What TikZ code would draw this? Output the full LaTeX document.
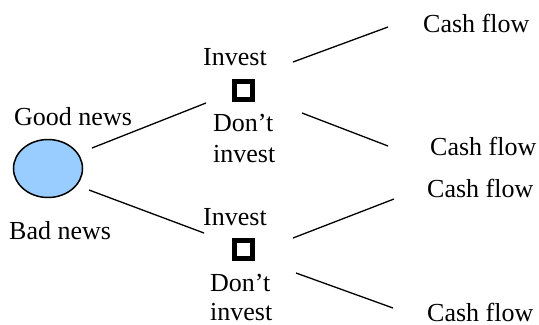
\documentclass[tikz,border=0pt]{standalone}
\usepackage{fontspec}
\setmainfont{Liberation Serif}
\usetikzlibrary{shapes.geometric}
\begin{document}
\begin{tikzpicture}[x=1bp,y=-1bp,
  lbl/.style={anchor=base west,inner sep=0pt,font=\fontsize{26bp}{30bp}\selectfont},
  edge/.style={line width=1.3bp,black},
  dec/.style={draw=black,line width=5bp,fill=white,minimum size=18bp,inner sep=0pt}]
\useasboundingbox (0,0) rectangle (539,324);
% chance node
\node[ellipse,draw=black,line width=1.5bp,fill={rgb,255:red,153;green,204;blue,255},
  minimum width=69bp,minimum height=58bp,inner sep=0pt] (chance) at (48,168.5) {};
% decision nodes
\node[dec] (d1) at (243.5,90.5) {};
\node[dec] (d2) at (243.5,249.5) {};
% labels
\node[lbl] (good) at (14,125) {Good news};
\node[lbl] (bad) at (9,239) {Bad news};
\node[lbl] (inv1) at (203,65) {Invest};
\node[lbl] (dont1) at (213,131) {Don’t};
\node[lbl] (ninv1) at (213,162) {invest};
\node[lbl] (inv2) at (203,225) {Invest};
\node[lbl] (dont2) at (210,291) {Don’t};
\node[lbl] (ninv2) at (210,320) {invest};
\node[lbl] (cf1) at (423,32) {Cash flow};
\node[lbl] (cf2) at (430,155) {Cash flow};
\node[lbl] (cf3) at (427,197) {Cash flow};
\node[lbl] (cf4) at (427,321) {Cash flow};
% connector end points
\coordinate (a1) at (92,148);  \coordinate (a2) at (206,103);
\coordinate (b1) at (89,190);  \coordinate (b2) at (204,233);
\coordinate (c1) at (293,62);  \coordinate (c2) at (388,27);
\coordinate (e1) at (302,113); \coordinate (e2) at (388,146);
\coordinate (f1) at (293,238); \coordinate (f2) at (394,199);
\coordinate (g1) at (296,273); \coordinate (g2) at (393,308);
\draw[edge] (a1) -- (a2);
\draw[edge] (b1) -- (b2);
\draw[edge] (c1) -- (c2);
\draw[edge] (e1) -- (e2);
\draw[edge] (f1) -- (f2);
\draw[edge] (g1) -- (g2);
\end{tikzpicture}
\end{document}
